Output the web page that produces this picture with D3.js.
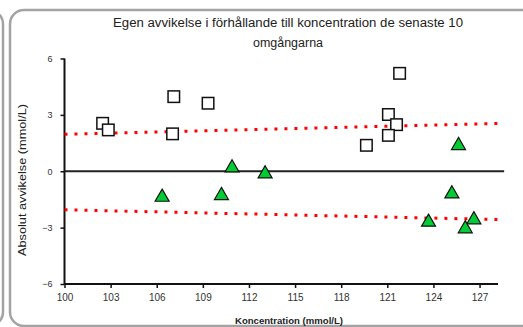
<!DOCTYPE html>
<html>
<head>
<meta charset="utf-8">
<script src="https://cdn.jsdelivr.net/npm/d3@7"></script>
<style>
html,body{margin:0;padding:0;background:#fff;}
svg{display:block;font-family:"Liberation Sans",Arial,sans-serif;}
</style>
</head>
<body>
<svg id="c" width="523" height="327"></svg>
<script>
// Data
const squareX = [102.48, 102.85, 107.03, 107.11, 109.34, 121.80, 121.07, 121.60, 121.07, 119.64];
const squareY = [2.55, 2.20, 1.99, 3.97, 3.62, 5.21, 3.02, 2.48, 1.91, 1.38];
const triX = [106.35, 110.21, 110.90, 113.05, 125.63, 125.20, 123.68, 126.63, 126.07];
const triY = [-1.38, -1.29, 0.18, -0.14, 1.37, -1.20, -2.71, -2.58, -3.06];
const limitX = [100, 128.2];
const upperLimit = [1.97, 2.54];
const lowerLimit = [-2.05, -2.57];
const xTicks = [100, 103, 106, 109, 112, 115, 118, 121, 124, 127];
const yTicks = [-6, -3, 0, 3, 6];
const titleLines = ["Egen avvikelse i förhållande till koncentration de senaste 10", "omgångarna"];
const xLabel = "Koncentration (mmol/L)";
const yLabel = "Absolut avvikelse (mmol/L)";

const svg = d3.select("#c");

// panel frames
svg.append("rect").attr("x", -600).attr("y", 10).attr("width", 603).attr("height", 316)
  .attr("rx", 14).attr("fill", "none").attr("stroke", "#a3a3a3").attr("stroke-width", 2.5);
svg.append("rect").attr("x", 10).attr("y", 10).attr("width", 700).attr("height", 316)
  .attr("rx", 14).attr("fill", "none").attr("stroke", "#a3a3a3").attr("stroke-width", 2.5);

const x = d3.scaleLinear().domain([100, 128.2]).range([64.5, 498]);
const y = d3.scaleLinear().domain([-6, 6]).range([284, 58.5]);

// title
svg.append("text").attr("x", 288).attr("y", 27).attr("text-anchor", "middle")
  .attr("font-size", 12).attr("fill", "#222")
  .attr("textLength", 350).attr("lengthAdjust", "spacingAndGlyphs").text(titleLines[0]);
svg.append("text").attr("x", 288).attr("y", 47).attr("text-anchor", "middle")
  .attr("font-size", 12).attr("fill", "#222")
  .attr("textLength", 70).attr("lengthAdjust", "spacingAndGlyphs").text(titleLines[1]);

// axes
const xAxis = d3.axisBottom(x).tickValues(xTicks).tickSize(4).tickPadding(6).tickFormat(d3.format("d"));
const gx = svg.append("g").attr("transform", `translate(0,${y(-6)})`).call(xAxis);
gx.select(".domain").attr("d", `M${x(100)},0H${x(128.2)}`).attr("stroke", "#111").attr("stroke-width", 2);
gx.selectAll(".tick line").attr("stroke", "#111").attr("stroke-width", 1.5);
gx.selectAll(".tick text").attr("font-size", 10).attr("fill", "#333").attr("font-family", "Liberation Sans, Arial, sans-serif");

const yAxis = d3.axisLeft(y).tickValues(yTicks).tickSize(4).tickPadding(8);
const gy = svg.append("g").attr("transform", `translate(${x(100)},0)`).call(yAxis);
gy.select(".domain").attr("d", `M0,${y(6)}V${y(-6)}`).attr("stroke", "#111").attr("stroke-width", 2);
gy.selectAll(".tick line").attr("stroke", "#111").attr("stroke-width", 1.5);
gy.selectAll(".tick text").attr("font-size", 9).attr("fill", "#333").attr("font-family", "Liberation Sans, Arial, sans-serif");

// axis labels
svg.append("text").attr("x", 289).attr("y", 324).attr("text-anchor", "middle")
  .attr("font-size", 9).attr("font-weight", "bold").attr("fill", "#222")
  .attr("textLength", 108).attr("lengthAdjust", "spacingAndGlyphs").text(xLabel);
svg.append("text").attr("transform", `translate(26,180) rotate(-90)`).attr("text-anchor", "middle")
  .attr("font-size", 10).attr("fill", "#222")
  .attr("textLength", 152).attr("lengthAdjust", "spacingAndGlyphs").text(yLabel);

// zero line
svg.append("line").attr("x1", x(100)).attr("x2", x(128.6)).attr("y1", y(0)).attr("y2", y(0))
  .attr("stroke", "#222").attr("stroke-width", 1.8);

// limit lines
const line = d3.line().x(d => x(d[0])).y(d => y(d[1]));
[upperLimit, lowerLimit].forEach(lim => {
  svg.append("path").attr("d", line(limitX.map((v, i) => [v, lim[i]])))
    .attr("fill", "none").attr("stroke", "#ff0000").attr("stroke-width", 3)
    .attr("stroke-dasharray", "3,7");
});

// squares
const sq = 11.5;
svg.append("g").selectAll("rect").data(squareX.map((v, i) => [v, squareY[i]])).join("rect")
  .attr("x", d => x(d[0]) - sq / 2).attr("y", d => y(d[1]) - sq / 2)
  .attr("width", sq).attr("height", sq)
  .attr("fill", "#fff").attr("stroke", "#111").attr("stroke-width", 1.5);

// triangles
const tri = d3.symbol().type(d3.symbolTriangle).size(85);
svg.append("g").selectAll("path").data(triX.map((v, i) => [v, triY[i]])).join("path")
  .attr("d", tri).attr("transform", d => `translate(${x(d[0])},${y(d[1])})`)
  .attr("fill", "#00cc33").attr("stroke", "#111").attr("stroke-width", 1.2);
</script>
</body>
</html>
